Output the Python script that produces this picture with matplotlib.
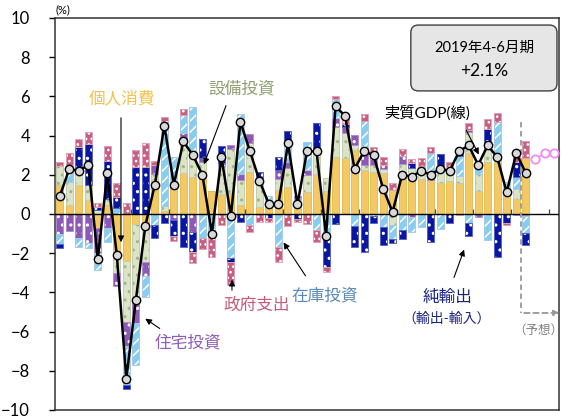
import numpy as np
import matplotlib
matplotlib.use("Agg")
import matplotlib.pyplot as plt
from matplotlib.patches import FancyBboxPatch

plt.rcParams['font.family'] = ['Lato', 'Noto Sans CJK JP', 'DejaVu Sans']
plt.rcParams['hatch.linewidth'] = 1.1

# quarters 2007Q1 .. 2019Q2 (actual), 2019Q3 .. 2020Q1 (forecast)
quarters = [f"{y}Q{q}" for y in range(2007, 2020) for q in range(1, 5)][:50]
fc_quarters = ["2019Q3", "2019Q4", "2020Q1"]

# contributions to real GDP growth (%pt, annualised q/q)
cons = [1.48, 0.46, 1.48, 0.71, -0.73, 0.46, -2.35, -2.40, -0.51, -0.56,
        1.80, 0.15, 1.35, 2.10, 1.90, 1.82, 1.17, 1.00, 1.05, 0.46,
        2.16, 0.37, 0.71, 1.22, 1.39, 0.60, 1.14, 2.05, 1.15, 2.93,
        2.85, 3.26, 2.23, 2.13, 2.07, 1.20, 2.05, 1.70, 1.80, 1.73,
        1.60, 1.69, 1.60, 3.10, 1.15, 2.67, 2.67, 1.05, 0.75, 2.85]
equip = [0.97, 1.19, 0.85, 0.77, 0.20, 0.30, -0.68, -3.10, -3.88, -1.87,
         0.25, 0.25, 0.15, 1.70, 1.05, 0.85, 0.00, 1.45, 2.26, 1.28,
         1.44, 1.45, 0.00, 0.55, 0.94, 0.15, 0.85, 1.25, 0.70, 1.53,
         1.30, 0.25, 0.29, 0.37, 0.25, -0.55, 0.50, 0.65, 0.65, 0.00,
         0.85, 0.73, 0.35, 1.10, 0.90, 0.97, 0.42, 0.45, 0.55, -0.05]
resid = [-1.02, -0.85, -1.24, -1.50, -1.27, -0.73, -0.65, -1.25, -1.19, -0.71,
         0.45, 0.00, -0.30, 0.34, -0.90, 0.17, 0.00, 0.15, 0.20, 0.29,
         0.50, 0.00, 0.00, 0.45, 0.34, 0.15, 0.25, 0.00, 0.00, 0.43,
         0.30, 0.50, 0.82, 0.63, 0.20, 0.00, 0.40, -0.15, 0.00, 0.43,
         0.00, 0.00, 0.00, 0.10, -0.15, 0.00, 0.00, 0.00, -0.05, -0.05]
inv = [-0.53, 0.48, -0.43, -0.25, -0.86, -0.68, 0.29, -1.95, -2.13, -1.07,
       -0.55, 4.30, 1.43, 0.90, 2.50, -1.24, -1.13, 0.00, -2.25, 3.08,
       -0.55, 0.00, 0.20, -1.67, 1.10, 0.00, 1.45, -0.80, -1.30, 0.97,
       0.00, -0.60, 1.39, -0.10, -0.65, -0.73, -0.80, -0.75, -0.65, 0.97,
       -0.75, 0.00, 1.00, -0.45, 0.30, -1.33, 1.62, 0.15, 0.60, -0.85]
netexp = [-0.20, 0.00, 1.11, 2.07, 0.17, 1.95, 0.60, -0.25, 2.41, 2.41,
          -0.65, -0.48, -0.80, -1.70, -1.05, 0.97, 0.00, 0.85, -0.20, -0.39,
          0.00, 0.31, -0.20, 0.70, 0.46, -0.25, 0.00, 1.33, -1.40, -0.53,
          0.15, -1.10, -1.92, -0.35, -0.95, -0.20, -0.50, 0.25, 0.00, -1.41,
          0.61, -0.44, 0.30, -0.68, 0.00, 0.68, -2.21, -0.45, 0.75, -0.65]
gov = [0.19, 1.00, 0.37, 0.65, 0.20, 0.75, 0.68, 0.55, 0.88, 1.19,
       0.20, 0.23, -0.30, 0.34, -0.55, -0.57, -1.05, -0.56, -1.15, 0.00,
       -0.35, -0.42, -0.20, -0.76, -0.63, -0.15, -0.50, -0.63, -0.25, 0.17,
       0.40, 0.00, 0.39, 0.31, 0.40, 0.40, 0.35, 0.20, 0.40, 0.31,
       0.00, 0.22, -0.05, 0.33, 0.30, 0.51, 0.43, -0.10, 0.50, 0.85]

gdp = [0.9, 2.3, 2.2, 2.5, -2.3, 2.1, -2.1, -8.4, -4.4, -0.6,
       1.5, 4.5, 1.5, 3.7, 3.0, 2.0, -1.0, 2.9, -0.1, 4.7,
       3.2, 1.7, 0.5, 0.5, 3.6, 0.5, 3.2, 3.2, -1.1, 5.5,
       5.0, 2.3, 3.2, 3.0, 1.3, 0.1, 2.0, 1.9, 2.2, 2.0,
       2.3, 2.2, 3.2, 3.5, 2.5, 3.5, 2.9, 1.1, 3.1, 2.1]
gdp_fc = [2.8, 3.1, 3.1]

# name, values, face colour, pattern colour, border colour, hatch
series = [
    ("個人消費", cons, "#F2C965", "#F2C965", "#E7BD55", None),
    ("設備投資", equip, "#DCE4C8", "#A3B38A", "#C3CDAE", ".."),
    ("住宅投資", resid, "#8C5AB4", "white", "#B08CCF", ".."),
    ("在庫投資", inv, "#86CDF0", "white", "#A9C9E8", "///"),
    ("純輸出", netexp, "#0B16A0", "white", "#5563C4", ".."),
    ("政府支出", gov, "#C65F80", "white", "#E0A2B6", "..."),
]

fig = plt.figure(figsize=(5.68, 4.17), dpi=100)
ax = fig.add_axes([55 / 568, 1 - 410 / 417, 504 / 568, 392 / 417])

x = np.arange(len(gdp))
width = 0.74
pos_base = np.zeros(len(x))
neg_base = np.zeros(len(x))
for name, vals, face, pat, border, hatch in series:
    v = np.array(vals)
    base = np.where(v >= 0, pos_base, neg_base)
    m = v != 0
    ax.bar(x[m], v[m], width, bottom=base[m], color=face, edgecolor=pat,
           linewidth=0, hatch=hatch, zorder=2)
    ax.bar(x[m], v[m], width, bottom=base[m], fill=False, edgecolor=border,
           linewidth=0.7, zorder=2.5)
    pos_base = pos_base + np.where(v > 0, v, 0)
    neg_base = neg_base + np.where(v < 0, v, 0)

ax.axhline(0, color="black", lw=1.0, zorder=3)
# year separators on the zero line
year_edges = np.arange(3.5, 52, 4)
ax.vlines(year_edges, 0, 0.25, color="#444444", lw=0.9, zorder=3)

ax.plot(x, gdp, color="black", lw=1.8, marker="o", ms=6, mfc="#D9D9D9",
        mec="black", mew=1.0, zorder=5)
xf = np.arange(len(gdp), len(gdp) + len(gdp_fc))
ax.plot(xf, gdp_fc, color="#F28CF0", lw=1.2, marker="o", ms=6, mfc="white",
        mec="#F28CF0", mew=1.3, zorder=5)

ax.set_xlim(-0.5, 52.5)
ax.set_ylim(-10, 10)
ax.set_yticks(np.arange(-10, 11, 2))
ax.set_xticks([])
ax.tick_params(axis="y", direction="out", length=4, width=1, labelsize=12, pad=14)
for s in ax.spines.values():
    s.set_color("#333333")
    s.set_linewidth(1.1)

ax.text(-0.5, 10.15, "(%)", fontsize=8, ha="left", va="bottom")

# forecast marker
ax.plot([48.55, 48.55], [4.7, -5.05], color="#999999", lw=1.3, ls=(0, (3, 2)), zorder=4)
ax.annotate("", xy=(52.85, -5.05), xytext=(48.55, -5.05),
            arrowprops=dict(arrowstyle="-|>", color="#999999", lw=1.3,
                            ls=(0, (3, 2)), mutation_scale=8),
            annotation_clip=False, zorder=4)
ax.text(50.3, -5.92, "（予想）", fontsize=9, color="#808080", ha="center", va="center")

# labels with arrows
arrow_kw = dict(arrowstyle="-|>", color="black", lw=0.8, mutation_scale=9)
ax.text(6.55, 5.92, "個人消費", fontsize=12, color="#F0C24A", ha="center", va="center")
ax.annotate("", xy=(6.44, -1.58), xytext=(6.44, 5.05), arrowprops=arrow_kw, zorder=6)

ax.text(19.17, 6.43, "設備投資", fontsize=12, color="#8EA070", ha="center", va="center")
ax.annotate("", xy=(15.06, 2.40), xytext=(17.59, 5.66), arrowprops=arrow_kw, zorder=6)

ax.text(38.6, 5.15, "実質GDP(線)", fontsize=11, color="black", ha="center", va="center")
ax.annotate("", xy=(44.2, 2.91), xytext=(42.62, 4.39), arrowprops=arrow_kw, zorder=6)

ax.text(13.46, -6.53, "住宅投資", fontsize=12, color="#8E5CB8", ha="center", va="center")
ax.annotate("", xy=(8.75, -5.26), xytext=(10.75, -5.92), arrowprops=arrow_kw, zorder=6)

ax.text(20.74, -4.64, "政府支出", fontsize=12, color="#C55A7A", ha="center", va="center")
ax.annotate("", xy=(18.11, -3.21), xytext=(18.11, -4.03), arrowprops=arrow_kw, zorder=6)

ax.text(27.89, -4.13, "在庫投資", fontsize=12, color="#5A8AB8", ha="center", va="center")
ax.annotate("", xy=(23.37, -1.33), xytext=(26.0, -3.27), arrowprops=arrow_kw, zorder=6)

ax.text(40.83, -4.23, "純輸出", fontsize=12, color="#1A237E", ha="center", va="center")
ax.text(40.72, -5.31, "（輸出-輸入）", fontsize=10, color="#1A237E", ha="center", va="center")
ax.annotate("", xy=(42.62, -1.68), xytext=(41.36, -3.37), arrowprops=arrow_kw, zorder=6)

# headline box
box = FancyBboxPatch((0.706, 0.814), 0.290, 0.168, transform=ax.transAxes,
                     boxstyle="round,pad=0,rounding_size=0.015",
                     mutation_aspect=504 / 392, fc="#E6E6E6", ec="#404040",
                     lw=1.0, zorder=6)
ax.add_patch(box)
ax.text(0.851, 0.923, "2019年4-6月期", transform=ax.transAxes, fontsize=10.5,
        ha="center", va="center", zorder=7)
ax.text(0.851, 0.865, "+2.1%", transform=ax.transAxes, fontsize=12.5,
        ha="center", va="center", zorder=7)

fig.savefig("out.png", dpi=100)
